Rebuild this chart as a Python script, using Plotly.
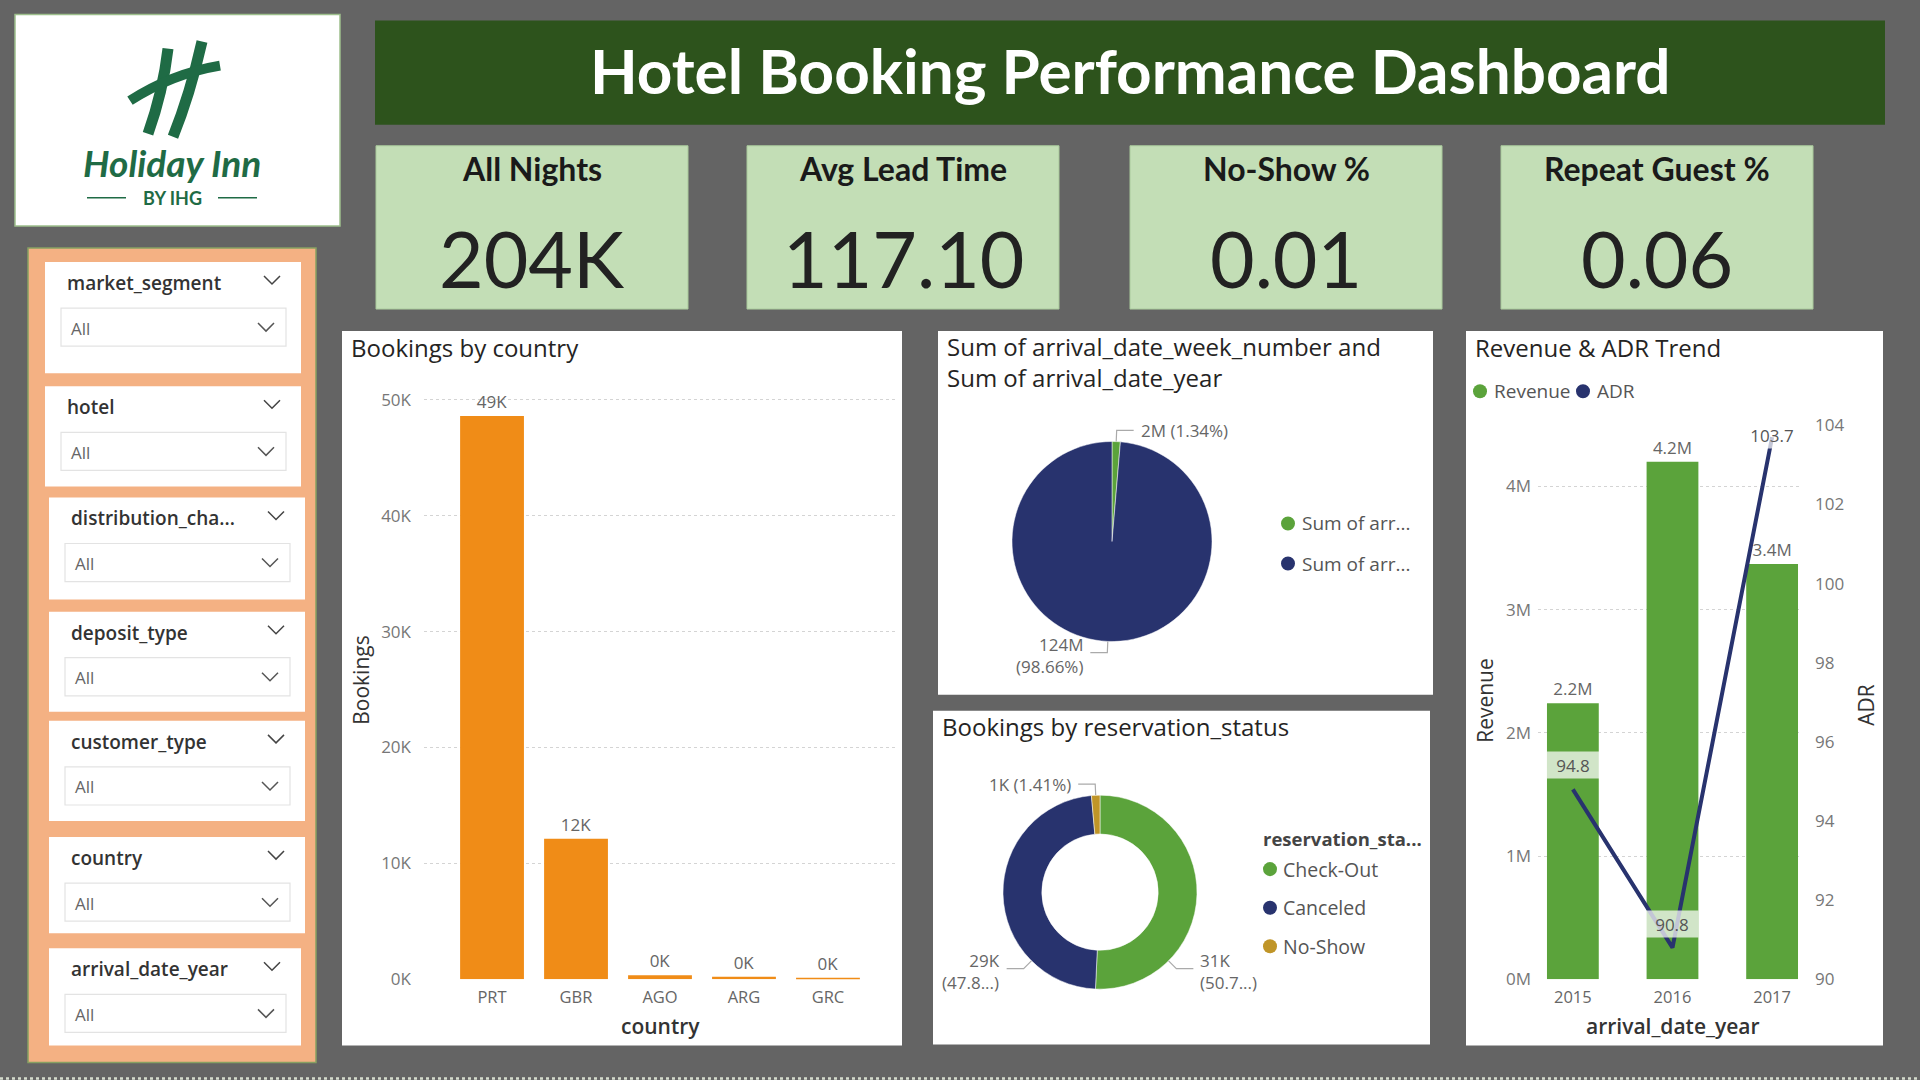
import math
import plotly.graph_objects as go

W, H = 1920, 1080
TOP_OFF, SPAN = 12.5, 1055.0  # vertical calibration of paper coordinates


def X(p):
    return p / W


def Y(p):
    return 1 - (p - TOP_OFF) / SPAN


# ------------------------------------------------------------------ data
kpi_titles = ["All Nights", "Avg Lead Time", "No-Show %", "Repeat Guest %"]
kpi_values = ["204K", "117.10", "0.01", "0.06"]

slicer_fields = ["market_segment", "hotel", "distribution_cha...", "deposit_type",
                 "customer_type", "country", "arrival_date_year"]
slicer_values = ["All", "All", "All", "All", "All", "All", "All"]

countries = ["PRT", "GBR", "AGO", "ARG", "GRC"]
bookings = [48590, 12129, 362, 214, 128]
booking_ticks = [0, 10000, 20000, 30000, 40000, 50000]

sum_labels = ["Sum of arrival_date_week_number", "Sum of arrival_date_year"]
sum_values = [1685000, 124050000]

status_labels = ["Check-Out", "Canceled", "No-Show"]
status_values = [30985, 29210, 862]

years = ["2015", "2016", "2017"]
revenue = [2240000, 4200000, 3370000]
adr = [94.8, 90.8, 103.7]
revenue_ticks = [0, 1000000, 2000000, 3000000, 4000000]
adr_ticks = [90, 92, 94, 96, 98, 100, 102, 104]

# ------------------------------------------------------------------ style
BG = "#646464"
BANNER = "#2D531C"
KPI = "#C3DEB6"
SALMON = "#F4B183"
ORANGE = "#F08C17"
GREEN = "#5BA33B"
NAVY = "#28336E"
GOLD = "#C09528"
LOGO_GREEN = "#1F6B45"
FONT = "Open Sans"

shapes = []
annotations = []


def rect(x0, y0, x1, y1, fill, line=None, lw=0, layer="below"):
    shapes.append(dict(type="rect", xref="paper", yref="paper",
                       x0=X(x0), x1=X(x1), y0=Y(y1), y1=Y(y0),
                       fillcolor=fill, line=dict(color=line or fill, width=lw),
                       layer=layer))


def poly(points, color, width, dash=None):
    d = "M " + " L ".join(f"{X(a):.6f},{Y(b):.6f}" for a, b in points)
    ln = dict(color=color, width=width)
    if dash:
        ln["dash"] = dash
    shapes.append(dict(type="path", xref="paper", yref="paper", path=d,
                       line=ln, layer="above"))


def qcurve(p0, c, p1, color, width):
    d = (f"M {X(p0[0]):.6f},{Y(p0[1]):.6f} Q {X(c[0]):.6f},{Y(c[1]):.6f} "
         f"{X(p1[0]):.6f},{Y(p1[1]):.6f}")
    shapes.append(dict(type="path", xref="paper", yref="paper", path=d,
                       line=dict(color=color, width=width), layer="above"))


def dot(cx, cy, r, color):
    shapes.append(dict(type="circle", xref="paper", yref="paper",
                       x0=X(cx - r), x1=X(cx + r), y0=Y(cy + r), y1=Y(cy - r),
                       fillcolor=color, line=dict(width=0), layer="above"))


def chevron(cx, cy, color="#444", w=8, h=4):
    poly([(cx - w, cy - h), (cx, cy + h), (cx + w, cy - h)], color, 1.5)


def text(x, y, s, size, color, xanchor="left", yanchor="middle", family=FONT,
         weight=None, style=None, angle=0, align="left"):
    f = dict(size=size, color=color, family=family)
    if weight:
        f["weight"] = weight
    if style:
        f["style"] = style
    annotations.append(dict(x=X(x), y=Y(y), xref="paper", yref="paper", text=s,
                            showarrow=False, xanchor=xanchor, yanchor=yanchor,
                            font=f, textangle=angle, align=align))


# ------------------------------------------------------------------ logo
rect(15, 15, 340, 226, "white", "#9dbf8c", 1.5)
qcurve((168, 49), (163, 92), (148, 134), LOGO_GREEN, 11)
qcurve((202, 42), (190, 95), (173, 137), LOGO_GREEN, 11)
qcurve((130, 101), (172, 74), (220, 66), LOGO_GREEN, 10)
text(172, 163, "Holiday Inn", 37, LOGO_GREEN, xanchor="center", family="Lato",
     weight=700, style="italic")
text(172, 198, "BY IHG", 18, LOGO_GREEN, xanchor="center", family="Lato", weight=700)
poly([(87, 198), (126, 198)], LOGO_GREEN, 1.5)
poly([(218, 198), (257, 198)], LOGO_GREEN, 1.5)

# ------------------------------------------------------------------ banner + KPI
rect(375, 21, 1885, 125, BANNER)
text(1130, 70, "Hotel Booking Performance Dashboard", 62, "white", xanchor="center",
     family="Lato", weight=700)

kpi_boxes = [(376, 688), (747, 1059), (1130, 1442), (1501, 1813)]
for (x0, x1), t, v in zip(kpi_boxes, kpi_titles, kpi_values):
    rect(x0, 146, x1, 309, KPI, "#a9c99b", 1)
    cx = (x0 + x1) / 2
    text(cx, 169, t, 32, "#1a1a1a", xanchor="center", family="Lato", weight=700)
    text(cx, 258, v, 77, "#222222", xanchor="center", family="Lato")

# ------------------------------------------------------------------ slicers
rect(28, 248, 316, 1061, SALMON, "#86a062", 1.5)
slicer_boxes = [(45, 301, 262), (45, 301, 386), (49, 305, 497), (49, 305, 611),
                (49, 305, 720), (49, 305, 836), (49, 301, 947)]
slicer_heights = [111, 100, 102, 100, 100, 96, 97]
for (x0, x1, y0), hgt, fld, val in zip(slicer_boxes, slicer_heights, slicer_fields, slicer_values):
    rect(x0, y0, x1, y0 + hgt, "white")
    text(x0 + 20, y0 + 21, fld, 19, "#333333", weight=600)
    chevron(x1 - 29, y0 + 18)
    rect(x0 + 16, y0 + 46, x1 - 15, y0 + 84, "white", "#e3e3e3", 1.2)
    text(x0 + 24, y0 + 66, val, 17, "#666666")
    chevron(x1 - 35, y0 + 65, "#555")

# ------------------------------------------------------------------ panels
rect(342, 331, 902, 1044, "white")
rect(938, 331, 1433, 694, "white")
rect(933, 710, 1430, 1043, "white")
rect(1466, 331, 1883, 1044, "white")

TITLE_C = "#252423"
text(349, 347, "Bookings by country", 24, TITLE_C)
text(945, 328, "Sum of arrival_date_week_number and<br>Sum of arrival_date_year", 24,
     TITLE_C, yanchor="top")
text(940, 726, "Bookings by reservation_status", 24, TITLE_C)
text(1473, 347, "Revenue & ADR Trend", 24, TITLE_C)

# bottom dotted border
poly([(0, 1077), (1920, 1077)], "#d5dccd", 2.5, dash="dot")

# ------------------------------------------------------------------ bar chart
fig = go.Figure()
fig.add_trace(go.Bar(
    x=countries, y=bookings, xaxis="x", yaxis="y", width=0.76,
    marker=dict(color=ORANGE, line=dict(width=0)),
    text=[f"{v / 1000:.0f}K" for v in bookings], textposition="outside",
    textfont=dict(size=17, color="#666666"), cliponaxis=False, constraintext="none",
    showlegend=False, hoverinfo="x+y"))

text(361, 680, "Bookings", 21, "#333333", xanchor="center", angle=-90)
text(660, 1025, "country", 21, "#333333", xanchor="center", weight=600)

# ------------------------------------------------------------------ combo chart
fig.add_trace(go.Bar(
    x=years, y=revenue, xaxis="x2", yaxis="y2", width=0.52,
    marker=dict(color=GREEN, line=dict(width=0)),
    text=[f"{v / 1e6:.1f}M" for v in revenue], textposition="outside",
    textfont=dict(size=17, color="#666666"), cliponaxis=False, constraintext="none",
    showlegend=False))
fig.add_trace(go.Scatter(
    x=years, y=adr, xaxis="x2", yaxis="y3", mode="lines",
    line=dict(color=NAVY, width=4), showlegend=False))

adr_shift = [24, 24, 2]
for i, (v, sh) in enumerate(zip(adr, adr_shift)):
    annotations.append(dict(x=i, y=v, xref="x2", yref="y3", text=f"{v:.1f}",
                            showarrow=False, yshift=sh, width=52, height=26,
                            bgcolor="rgba(255,255,255,0.72)", borderpad=0,
                            font=dict(size=17, color="#555555", family=FONT)))

text(1485, 700, "Revenue", 21, "#333333", xanchor="center", angle=-90)
text(1866, 704, "ADR", 21, "#333333", xanchor="center", angle=-90)
text(1673, 1025, "arrival_date_year", 21, "#333333", xanchor="center", weight=600)

# legend
dot(1480, 391, 7, GREEN)
text(1492, 391, "Revenue", 19, "#555555")
dot(1583, 391, 7, NAVY)
text(1595, 391, "ADR", 19, "#555555")

# ------------------------------------------------------------------ pies


def slice_labels(cx, cy, r, texts, angles):
    for ang, s in zip(angles, texts):
        t = math.radians(ang)
        sx, sy = math.sin(t), -math.cos(t)
        ex, ey = cx + r * sx, cy + r * sy
        ox, oy = cx + (r + 11) * sx, cy + (r + 11) * sy
        side = 1 if sx >= 0 else -1
        hx = ox + side * 17
        poly([(ex, ey), (ox, oy), (hx, oy)], "#aaaaaa", 1.2)
        two = "<br>" in s
        text(hx + side * 5, oy - 22 if two else oy, s, 17, "#666666",
             xanchor="left" if side > 0 else "right",
             yanchor="top" if two else "middle",
             align="left" if side > 0 else "right")


def mid_angles(values):
    tot = sum(values)
    out, acc = [], 0
    for v in values:
        out.append((acc + v / 2) / tot * 360)
        acc += v
    return out


# pie 1
PC1 = (1112, 541, 100)
fig.add_trace(go.Pie(
    labels=sum_labels, values=sum_values, sort=False, direction="clockwise",
    rotation=0, textinfo="none", marker=dict(colors=[GREEN, NAVY], line=dict(color="white", width=0.5)),
    domain=dict(x=[X(PC1[0] - PC1[2]), X(PC1[0] + PC1[2])],
                y=[Y(PC1[1] + PC1[2]), Y(PC1[1] - PC1[2])]),
    showlegend=False))
tot1 = sum(sum_values)
pie1_texts = [f"{sum_values[0] / 1e6:.0f}M ({100 * sum_values[0] / tot1:.2f}%)",
              f"{sum_values[1] / 1e6:.0f}M<br>({100 * sum_values[1] / tot1:.2f}%)"]
slice_labels(PC1[0], PC1[1], PC1[2], pie1_texts, mid_angles(sum_values))

for i, (lbl, col) in enumerate(zip(sum_labels, [GREEN, NAVY])):
    yy = 523 + 40 * i
    dot(1288, yy, 7, col)
    text(1300, yy, lbl[:10] + "...", 19, "#555555")

# donut
PC2 = (1100, 891, 97)
fig.add_trace(go.Pie(
    labels=status_labels, values=status_values, sort=False, direction="clockwise",
    rotation=0, hole=0.6, textinfo="none",
    marker=dict(colors=[GREEN, NAVY, GOLD], line=dict(color="white", width=0.5)),
    domain=dict(x=[X(PC2[0] - PC2[2]), X(PC2[0] + PC2[2])],
                y=[Y(PC2[1] + PC2[2]), Y(PC2[1] - PC2[2])]),
    showlegend=False))
tot2 = sum(status_values)
donut_texts = []
trunc = [True, True, False]
for v, tr in zip(status_values, trunc):
    pct = 100 * v / tot2
    if tr:
        donut_texts.append(f"{v / 1000:.0f}K<br>({math.floor(pct * 10) / 10:.1f}...)")
    else:
        donut_texts.append(f"{v / 1000:.0f}K ({pct:.2f}%)")
donut_angles = [135, 225, mid_angles(status_values)[2]]
slice_labels(PC2[0], PC2[1], PC2[2], donut_texts, donut_angles)

text(1261, 837, "reservation_status"[:15] + "...", 18.5, "#444444", weight=700)
for i, (lbl, col) in enumerate(zip(status_labels, [GREEN, NAVY, GOLD])):
    yy = 868 + 38.5 * i
    dot(1270, yy, 7, col)
    text(1281, yy, lbl, 19.5, "#555555")

# ------------------------------------------------------------------ layout
tick_font = dict(size=17, color="#777777", family=FONT)
grid = dict(showgrid=True, gridcolor="#d4d4d4", griddash="dot", gridwidth=1,
            zeroline=False, showline=False, ticks="")

bar_px_per_unit = 115.7 / 10000
bar_top = 978 - 51600 * bar_px_per_unit

rev_top_val = (978 - 425) / 123 * 1e6

fig.update_layout(
    width=W, height=H, autosize=False,
    margin=dict(l=0, r=0, t=0, b=0, pad=0),
    paper_bgcolor=BG, plot_bgcolor="rgba(0,0,0,0)",
    showlegend=False,
    font=dict(family=FONT),
    xaxis=dict(domain=[X(424), X(896)], range=[-0.81, 4.81], type="category",
               showgrid=False, zeroline=False, showline=False, ticks="",
               tickfont=dict(size=16.5, color="#666666", family=FONT),
               ticklabelstandoff=6, anchor="y", fixedrange=True),
    yaxis=dict(domain=[Y(978), Y(bar_top)], range=[0, 51600], anchor="x",
               tickvals=booking_ticks,
               ticktext=[f"{v // 1000}K" for v in booking_ticks],
               tickfont=tick_font, ticklabelstandoff=12, fixedrange=True, **grid),
    xaxis2=dict(domain=[X(1538), X(1800)], range=[-0.35, 2.28], type="category",
                showgrid=False, zeroline=False, showline=False, ticks="",
                tickfont=dict(size=16.5, color="#666666", family=FONT),
                ticklabelstandoff=6, anchor="y2", fixedrange=True),
    yaxis2=dict(domain=[Y(978), Y(425)], range=[0, rev_top_val], anchor="x2",
                tickvals=revenue_ticks,
                ticktext=[f"{v // 1000000}M" for v in revenue_ticks],
                tickfont=tick_font, ticklabelstandoff=6, fixedrange=True, **grid),
    yaxis3=dict(domain=[Y(978), Y(425)], range=[90, 104], anchor="x2",
                overlaying="y2", side="right", tickvals=adr_ticks,
                showgrid=False, zeroline=False, showline=False, ticks="",
                tickfont=tick_font, ticklabelstandoff=14, fixedrange=True),
    shapes=shapes,
    annotations=annotations,
)

fig.write_html("out.html", config={"displayModeBar": False})
